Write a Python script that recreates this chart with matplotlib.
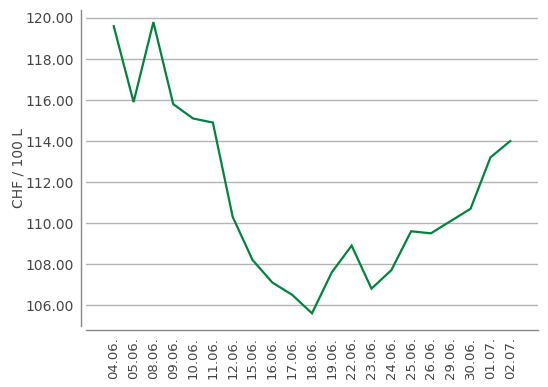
import matplotlib
matplotlib.use("Agg")
import matplotlib.pyplot as plt

# --- data ---
dates = ['04.06.', '05.06.', '08.06.', '09.06.', '10.06.', '11.06.', '12.06.',
         '15.06.', '16.06.', '17.06.', '18.06.', '19.06.', '22.06.', '23.06.',
         '24.06.', '25.06.', '26.06.', '29.06.', '30.06.', '01.07.', '02.07.']
prices = [119.6, 115.9, 119.8, 115.8, 115.1, 114.9, 110.3,
          108.2, 107.1, 106.5, 105.6, 107.6, 108.9, 106.8,
          107.7, 109.6, 109.5, 110.1, 110.7, 113.2, 114.0]
yticks = [106, 108, 110, 112, 114, 116, 118, 120]

text_col = '#444444'
line_col = '#00843D'

fig = plt.figure(figsize=(5.48, 3.87), dpi=100)
ax = fig.add_axes([86/548, 61/387, 452/548, 316/387])

x = list(range(len(dates)))
ax.plot(x, prices, color=line_col, lw=1.6, solid_joinstyle='miter')

ax.set_xlim(-1.4, 21.4)
ax.set_ylim(104.98, 120.39)
ax.set_yticks(yticks)
ax.set_yticklabels(['{:.2f}'.format(v) for v in yticks])
ax.set_xticks(x)
ax.set_xticklabels(dates)

ax.grid(axis='y', color='#b4b4b4', lw=1)
ax.set_axisbelow(True)
ax.tick_params(axis='both', length=0, colors=text_col)
ax.tick_params(axis='y', pad=5, labelsize=10)
ax.tick_params(axis='x', pad=5, labelrotation=90, labelsize=9.5)

for s in ['top', 'right']:
    ax.spines[s].set_visible(False)
ax.spines['left'].set_position(('outward', 3.6))
ax.spines['bottom'].set_position(('outward', 3))
for s in ['left', 'bottom']:
    ax.spines[s].set_color('#888888')
    ax.spines[s].set_linewidth(1)

ax.set_ylabel('CHF / 100 L', color=text_col, fontsize=10, labelpad=0)

fig.savefig('out.png', dpi=100)
